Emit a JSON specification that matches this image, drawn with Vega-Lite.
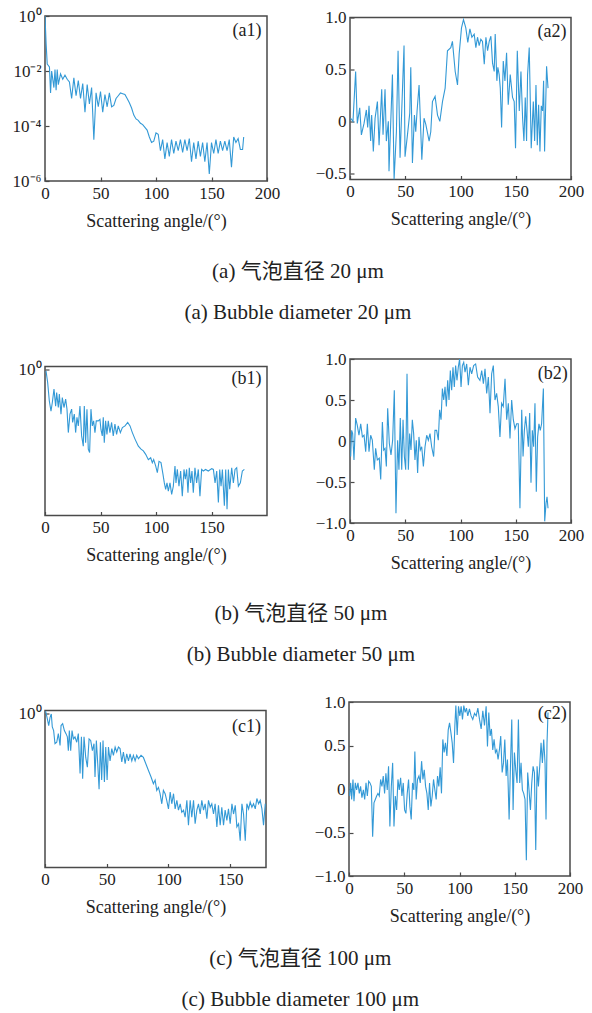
{
  "$schema": "https://vega.github.io/schema/vega-lite/v6.json",
  "padding": {"left": 11, "top": 6, "right": 5, "bottom": 5},
  "background": "white",
  "datasets": {
    "a1": [
      {"angle": 0, "value": 1}, {"angle": 1, "value": 0.1}, {"angle": 2, "value": 0.0178}, {"angle": 4, "value": 0.0141},
      {"angle": 5, "value": 0.0016}, {"angle": 6, "value": 0.01}, {"angle": 8, "value": 0.0025}, {"angle": 9, "value": 0.0112},
      {"angle": 10, "value": 0.002}, {"angle": 11, "value": 0.0112}, {"angle": 12, "value": 0.0032}, {"angle": 14, "value": 0.0079},
      {"angle": 16, "value": 0.005}, {"angle": 18, "value": 0.0071}, {"angle": 20, "value": 0.005}, {"angle": 22, "value": 0.004},
      {"angle": 24, "value": 0.001}, {"angle": 26, "value": 0.0056}, {"angle": 28, "value": 0.00126}, {"angle": 30, "value": 0.0045},
      {"angle": 32, "value": 0.001}, {"angle": 34, "value": 0.0035}, {"angle": 36, "value": 0.00032}, {"angle": 38, "value": 0.0032},
      {"angle": 40, "value": 0.00063}, {"angle": 42, "value": 0.0025}, {"angle": 44, "value": 0.000032}, {"angle": 46, "value": 0.0016},
      {"angle": 48, "value": 0.0005}, {"angle": 50, "value": 0.0018}, {"angle": 52, "value": 0.00032}, {"angle": 54, "value": 0.0014},
      {"angle": 56, "value": 0.0005}, {"angle": 58, "value": 0.0016}, {"angle": 60, "value": 0.0005}, {"angle": 62, "value": 0.00056},
      {"angle": 64, "value": 0.001}, {"angle": 66, "value": 0.00126}, {"angle": 68, "value": 0.0016}, {"angle": 70, "value": 0.0015},
      {"angle": 72, "value": 0.0014}, {"angle": 74, "value": 0.001}, {"angle": 76, "value": 0.0007}, {"angle": 78, "value": 0.00045},
      {"angle": 80, "value": 0.00025}, {"angle": 82, "value": 0.00018}, {"angle": 84, "value": 0.00016}, {"angle": 86, "value": 0.000126},
      {"angle": 88, "value": 0.000112}, {"angle": 90, "value": 0.000089}, {"angle": 92, "value": 0.000071}, {"angle": 94, "value": 0.00004},
      {"angle": 96, "value": 0.000025}, {"angle": 98, "value": 0.000028}, {"angle": 100, "value": 0.000056}, {"angle": 102, "value": 0.00005},
      {"angle": 104, "value": 0.0000126}, {"angle": 106, "value": 0.000032}, {"angle": 108, "value": 0.0000063}, {"angle": 110, "value": 0.000025},
      {"angle": 112, "value": 0.0000079}, {"angle": 114, "value": 0.000032}, {"angle": 116, "value": 0.00001}, {"angle": 118, "value": 0.000028},
      {"angle": 120, "value": 0.0000126}, {"angle": 122, "value": 0.000032}, {"angle": 124, "value": 0.000011}, {"angle": 126, "value": 0.000032},
      {"angle": 128, "value": 0.0000126}, {"angle": 130, "value": 0.000035}, {"angle": 132, "value": 0.000005}, {"angle": 134, "value": 0.000025},
      {"angle": 136, "value": 0.0000063}, {"angle": 138, "value": 0.000028}, {"angle": 140, "value": 0.0000079}, {"angle": 142, "value": 0.000025},
      {"angle": 144, "value": 0.000005}, {"angle": 146, "value": 0.000025}, {"angle": 148, "value": 0.0000018}, {"angle": 150, "value": 0.000025},
      {"angle": 152, "value": 0.00001}, {"angle": 154, "value": 0.000032}, {"angle": 156, "value": 0.00001}, {"angle": 158, "value": 0.000028},
      {"angle": 160, "value": 0.0000126}, {"angle": 162, "value": 0.000028}, {"angle": 164, "value": 0.0000126}, {"angle": 166, "value": 0.000032},
      {"angle": 168, "value": 0.0000032}, {"angle": 170, "value": 0.00004}, {"angle": 172, "value": 0.000025}, {"angle": 174, "value": 0.000035},
      {"angle": 176, "value": 0.000014}, {"angle": 178, "value": 0.000014}, {"angle": 179, "value": 0.00004}
    ],
    "a2": [
      {"angle": 0.6, "value": 0.03}, {"angle": 2.7, "value": 0}, {"angle": 5.1, "value": 0.48}, {"angle": 6.6, "value": -0.02},
      {"angle": 8.8, "value": 0.13}, {"angle": 10.3, "value": -0.13}, {"angle": 12.7, "value": -0.02}, {"angle": 14.8, "value": 0.11},
      {"angle": 16, "value": -0.06}, {"angle": 17.2, "value": 0.15}, {"angle": 18.7, "value": -0.19}, {"angle": 19.6, "value": 0.06},
      {"angle": 21.1, "value": -0.29}, {"angle": 22.7, "value": 0.03}, {"angle": 24.8, "value": 0.19}, {"angle": 26.3, "value": -0.23},
      {"angle": 28.7, "value": 0.31}, {"angle": 29.9, "value": -0.13}, {"angle": 31.7, "value": 0.31}, {"angle": 32.9, "value": -0.19},
      {"angle": 34.7, "value": 0}, {"angle": 35.3, "value": -0.48}, {"angle": 38.4, "value": 0.45}, {"angle": 39.9, "value": -0.56},
      {"angle": 42, "value": -0.1}, {"angle": 43.5, "value": 0.68}, {"angle": 45.3, "value": -0.35}, {"angle": 46.8, "value": 0.1},
      {"angle": 48.9, "value": 0.73}, {"angle": 49.8, "value": -0.34}, {"angle": 52, "value": -0.13}, {"angle": 54.1, "value": 0.08},
      {"angle": 55, "value": 0.52}, {"angle": 56.5, "value": -0.4}, {"angle": 58.3, "value": 0.06}, {"angle": 59.5, "value": -0.1},
      {"angle": 60.7, "value": 0.1}, {"angle": 62.5, "value": 0.35}, {"angle": 65, "value": -0.37}, {"angle": 67, "value": 0.03},
      {"angle": 68.6, "value": -0.03}, {"angle": 71.6, "value": -0.19}, {"angle": 73.1, "value": -0.1}, {"angle": 74.6, "value": 0.19},
      {"angle": 77, "value": 0.24}, {"angle": 79.2, "value": 0.06}, {"angle": 81.3, "value": 0}, {"angle": 83.7, "value": 0.19},
      {"angle": 86.1, "value": 0.32}, {"angle": 88.2, "value": 0.68}, {"angle": 91.2, "value": 0.71}, {"angle": 92.7, "value": 0.77},
      {"angle": 95.2, "value": 0.48}, {"angle": 97.3, "value": 0.35}, {"angle": 98.8, "value": 0.65}, {"angle": 100.9, "value": 0.9},
      {"angle": 102.7, "value": 0.98}, {"angle": 104.8, "value": 0.9}, {"angle": 106.6, "value": 0.76}, {"angle": 108.5, "value": 0.89},
      {"angle": 110.3, "value": 0.81}, {"angle": 112.4, "value": 0.84}, {"angle": 113.9, "value": 0.71}, {"angle": 115.4, "value": 0.81},
      {"angle": 116.9, "value": 0.73}, {"angle": 118.4, "value": 0.79}, {"angle": 119.9, "value": 0.77}, {"angle": 121.5, "value": 0.55},
      {"angle": 123, "value": 0.81}, {"angle": 124.5, "value": 0.68}, {"angle": 126, "value": 0.77}, {"angle": 127.5, "value": 0.82},
      {"angle": 129, "value": 0.56}, {"angle": 130.5, "value": 0.48}, {"angle": 131.4, "value": 0.84}, {"angle": 132.9, "value": 0.39},
      {"angle": 133.8, "value": 0.52}, {"angle": 135, "value": 0.45}, {"angle": 136, "value": 0.32}, {"angle": 137.2, "value": -0.06},
      {"angle": 138.7, "value": 0.58}, {"angle": 140.2, "value": 0.39}, {"angle": 141.7, "value": 0.66}, {"angle": 143.2, "value": 0.16},
      {"angle": 145, "value": 0.45}, {"angle": 147.1, "value": 0.23}, {"angle": 148.6, "value": 0.19}, {"angle": 149.8, "value": -0.26},
      {"angle": 151.4, "value": 0.68}, {"angle": 153.2, "value": 0.1}, {"angle": 154.7, "value": 0.48}, {"angle": 156.2, "value": 0.03},
      {"angle": 157.4, "value": -0.19}, {"angle": 158.6, "value": 0.23}, {"angle": 159.8, "value": -0.19}, {"angle": 160.7, "value": 0.45},
      {"angle": 162.2, "value": 0.71}, {"angle": 164, "value": -0.26}, {"angle": 165.9, "value": 0.19}, {"angle": 167.1, "value": -0.19},
      {"angle": 168.3, "value": 0.35}, {"angle": 169.5, "value": -0.23}, {"angle": 170.7, "value": 0.16}, {"angle": 171.9, "value": -0.29},
      {"angle": 173.1, "value": 0.15}, {"angle": 174.3, "value": 0.1}, {"angle": 175.2, "value": 0.39}, {"angle": 176.1, "value": -0.29},
      {"angle": 177.9, "value": 0.53}, {"angle": 179.2, "value": 0.32}
    ],
    "b1": [
      {"angle": 0.9, "value": 0.91}, {"angle": 2.4, "value": 0.3}, {"angle": 3.9, "value": 0.052}, {"angle": 5.4, "value": 0.02},
      {"angle": 6.6, "value": 0.045}, {"angle": 8.1, "value": 0.16}, {"angle": 9.6, "value": 0.032}, {"angle": 10.5, "value": 0.115},
      {"angle": 12, "value": 0.028}, {"angle": 12.9, "value": 0.1}, {"angle": 14.4, "value": 0.015}, {"angle": 15.6, "value": 0.072},
      {"angle": 17.1, "value": 0.028}, {"angle": 18.6, "value": 0.062}, {"angle": 19.8, "value": 0.024}, {"angle": 21, "value": 0.0026},
      {"angle": 22.5, "value": 0.015}, {"angle": 24, "value": 0.024}, {"angle": 24.9, "value": 0.0068}, {"angle": 26.4, "value": 0.015},
      {"angle": 27.6, "value": 0.0026}, {"angle": 28.8, "value": 0.011}, {"angle": 30, "value": 0.0049}, {"angle": 31.5, "value": 0.032},
      {"angle": 33, "value": 0.0019}, {"angle": 34.5, "value": 0.00072}, {"angle": 35.4, "value": 0.032}, {"angle": 36.6, "value": 0.001},
      {"angle": 37.8, "value": 0.024}, {"angle": 39, "value": 0.00054}, {"angle": 40.2, "value": 0.00039}, {"angle": 41.4, "value": 0.024},
      {"angle": 42.6, "value": 0.0049}, {"angle": 43.8, "value": 0.0079}, {"angle": 45, "value": 0.0026}, {"angle": 46.2, "value": 0.0079},
      {"angle": 48, "value": 0.0079}, {"angle": 49.5, "value": 0.0091}, {"angle": 50.4, "value": 0.0035}, {"angle": 51.6, "value": 0.0019},
      {"angle": 52.5, "value": 0.011}, {"angle": 53.4, "value": 0.001}, {"angle": 54.6, "value": 0.0079}, {"angle": 55.8, "value": 0.0022},
      {"angle": 57, "value": 0.0079}, {"angle": 58.5, "value": 0.0026}, {"angle": 60, "value": 0.0068}, {"angle": 61.5, "value": 0.0019},
      {"angle": 63, "value": 0.0058}, {"angle": 64.5, "value": 0.0022}, {"angle": 66, "value": 0.0049}, {"angle": 67.9, "value": 0.0026},
      {"angle": 69.7, "value": 0.0042}, {"angle": 72.1, "value": 0.0049}, {"angle": 74.5, "value": 0.0068}, {"angle": 76.6, "value": 0.0049},
      {"angle": 78.7, "value": 0.0026}, {"angle": 81.1, "value": 0.0014}, {"angle": 84.1, "value": 0.00072}, {"angle": 86.5, "value": 0.00054},
      {"angle": 88.6, "value": 0.00046}, {"angle": 90.7, "value": 0.00033}, {"angle": 93.1, "value": 0.0002}, {"angle": 95.2, "value": 0.00024},
      {"angle": 96.7, "value": 0.00015}, {"angle": 97.9, "value": 0.0002}, {"angle": 99.7, "value": 0.00011}, {"angle": 101.2, "value": 0.000058},
      {"angle": 102.7, "value": 0.00017}, {"angle": 104.5, "value": 0.00015}, {"angle": 106.3, "value": 0.000049}, {"angle": 107.5, "value": 0.000022},
      {"angle": 108.7, "value": 0.000012}, {"angle": 109.9, "value": 0.000022}, {"angle": 111.1, "value": 0.00001}, {"angle": 112.6, "value": 0.000022},
      {"angle": 114.1, "value": 0.0000074}, {"angle": 115.6, "value": 0.000016}, {"angle": 117.1, "value": 0.00011}, {"angle": 118, "value": 0.000022},
      {"angle": 119.2, "value": 0.000079}, {"angle": 120.7, "value": 0.000016}, {"angle": 122.2, "value": 0.000068}, {"angle": 123.7, "value": 0.0000063},
      {"angle": 125.2, "value": 0.000079}, {"angle": 126.4, "value": 0.000031}, {"angle": 127.6, "value": 0.000079}, {"angle": 128.8, "value": 0.0000087},
      {"angle": 130, "value": 0.000093}, {"angle": 131.2, "value": 0.000022}, {"angle": 132.4, "value": 0.000068}, {"angle": 133.6, "value": 0.0000087},
      {"angle": 135.1, "value": 0.000093}, {"angle": 136.6, "value": 0.000022}, {"angle": 138.1, "value": 0.000079}, {"angle": 139.6, "value": 0.0000063},
      {"angle": 141.1, "value": 0.000079}, {"angle": 142.6, "value": 0.000068}, {"angle": 144.7, "value": 0.000079}, {"angle": 147.1, "value": 0.000068},
      {"angle": 150.2, "value": 0.000085}, {"angle": 151.7, "value": 0.000079}, {"angle": 153.2, "value": 0.000022}, {"angle": 154.7, "value": 0.000068},
      {"angle": 156.2, "value": 0.0000034}, {"angle": 157.4, "value": 0.000079}, {"angle": 158.6, "value": 0.000016}, {"angle": 159.8, "value": 0.000079},
      {"angle": 161.6, "value": 0.0000025}, {"angle": 162.8, "value": 0.000079}, {"angle": 164, "value": 0.0000018}, {"angle": 165.2, "value": 0.000079},
      {"angle": 166.4, "value": 0.000012}, {"angle": 168.2, "value": 0.000093}, {"angle": 169.7, "value": 0.000022}, {"angle": 171.2, "value": 0.000079},
      {"angle": 172.7, "value": 0.000093}, {"angle": 174.2, "value": 0.000016}, {"angle": 176, "value": 0.000022}, {"angle": 177.8, "value": 0.000068},
      {"angle": 179.6, "value": 0.000079}
    ],
    "b2": [
      {"angle": 0.6, "value": -0.19}, {"angle": 1.5, "value": 0.13}, {"angle": 2.4, "value": 0.09}, {"angle": 3.6, "value": -0.23},
      {"angle": 5.1, "value": 0.28}, {"angle": 6.6, "value": 0.19}, {"angle": 8.1, "value": 0.07}, {"angle": 9.7, "value": 0.21},
      {"angle": 11.2, "value": 0.05}, {"angle": 12.7, "value": 0.07}, {"angle": 14.2, "value": -0.13}, {"angle": 15.7, "value": 0.21},
      {"angle": 17.2, "value": -0.13}, {"angle": 18.7, "value": 0.07}, {"angle": 20.2, "value": 0.01}, {"angle": 22, "value": -0.35},
      {"angle": 23.2, "value": -0.09}, {"angle": 24.7, "value": -0.23}, {"angle": 26.5, "value": -0.21}, {"angle": 27.8, "value": -0.47},
      {"angle": 29.3, "value": 0.23}, {"angle": 30.5, "value": -0.11}, {"angle": 31.7, "value": -0.09}, {"angle": 32.9, "value": -0.31},
      {"angle": 34.1, "value": 0.4}, {"angle": 35.6, "value": -0.03}, {"angle": 37.1, "value": -0.17}, {"angle": 38.6, "value": 0.01},
      {"angle": 40.1, "value": 0.62}, {"angle": 41.6, "value": -0.88}, {"angle": 43.1, "value": 0.01}, {"angle": 44.3, "value": -0.35},
      {"angle": 45.5, "value": 0.28}, {"angle": 46.8, "value": -0.35}, {"angle": 48, "value": 0.26}, {"angle": 49.2, "value": -0.19},
      {"angle": 50.4, "value": -0.35}, {"angle": 51.6, "value": 0.82}, {"angle": 52.8, "value": -0.35}, {"angle": 54, "value": 0.09},
      {"angle": 55.2, "value": -0.11}, {"angle": 56.4, "value": 0.26}, {"angle": 57.6, "value": 0.09}, {"angle": 58.8, "value": -0.23},
      {"angle": 60, "value": 0.01}, {"angle": 61.2, "value": -0.39}, {"angle": 62.4, "value": 0.05}, {"angle": 63.6, "value": -0.11},
      {"angle": 64.9, "value": -0.07}, {"angle": 66.4, "value": -0.31}, {"angle": 67.9, "value": -0.07}, {"angle": 69.4, "value": 0.07},
      {"angle": 70.9, "value": 0.01}, {"angle": 72.4, "value": 0.09}, {"angle": 73.9, "value": -0.07}, {"angle": 75.7, "value": -0.19},
      {"angle": 76.9, "value": 0.13}, {"angle": 78.4, "value": 0.13}, {"angle": 79.9, "value": 0.01}, {"angle": 81.1, "value": 0.38},
      {"angle": 82.4, "value": 0.26}, {"angle": 83.6, "value": 0.64}, {"angle": 84.8, "value": 0.5}, {"angle": 86, "value": 0.66},
      {"angle": 87.2, "value": 0.42}, {"angle": 88.4, "value": 0.74}, {"angle": 89.6, "value": 0.5}, {"angle": 90.8, "value": 0.86},
      {"angle": 92, "value": 0.62}, {"angle": 93.2, "value": 0.9}, {"angle": 94.4, "value": 0.66}, {"angle": 95.6, "value": 0.92},
      {"angle": 96.8, "value": 0.74}, {"angle": 98, "value": 0.9}, {"angle": 99.2, "value": 1.0}, {"angle": 100.5, "value": 0.66},
      {"angle": 101.7, "value": 0.92}, {"angle": 102.9, "value": 0.96}, {"angle": 104.1, "value": 0.84}, {"angle": 105.6, "value": 0.94},
      {"angle": 107.1, "value": 0.68}, {"angle": 108.6, "value": 0.9}, {"angle": 110.1, "value": 0.82}, {"angle": 111.9, "value": 0.92},
      {"angle": 113.7, "value": 0.94}, {"angle": 115.5, "value": 0.78}, {"angle": 117.6, "value": 0.74}, {"angle": 119.2, "value": 0.86},
      {"angle": 120.7, "value": 0.7}, {"angle": 122.2, "value": 0.88}, {"angle": 123.7, "value": 0.58}, {"angle": 125.2, "value": 0.78},
      {"angle": 126.7, "value": 0.34}, {"angle": 128.2, "value": 0.82}, {"angle": 129.7, "value": 0.92}, {"angle": 131.2, "value": 0.5},
      {"angle": 132.7, "value": 0.58}, {"angle": 134.2, "value": 0.42}, {"angle": 135.7, "value": 0.05}, {"angle": 137.2, "value": 0.46},
      {"angle": 138.7, "value": 0.42}, {"angle": 140.3, "value": 0.76}, {"angle": 141.8, "value": 0.26}, {"angle": 143.3, "value": 0.46},
      {"angle": 144.8, "value": 0.03}, {"angle": 146.3, "value": 0.5}, {"angle": 147.8, "value": 0.26}, {"angle": 149.3, "value": 0.15},
      {"angle": 150.8, "value": 0.21}, {"angle": 152.3, "value": 0.21}, {"angle": 153.8, "value": -0.82}, {"angle": 155.4, "value": 0.38},
      {"angle": 156.6, "value": -0.19}, {"angle": 157.8, "value": 0.13}, {"angle": 159, "value": 0.3}, {"angle": 160.2, "value": 0.13},
      {"angle": 161.4, "value": -0.07}, {"angle": 162.6, "value": 0.34}, {"angle": 163.8, "value": -0.51}, {"angle": 165, "value": 0.13},
      {"angle": 166.2, "value": -0.07}, {"angle": 167.4, "value": 0.46}, {"angle": 168.6, "value": -0.62}, {"angle": 169.8, "value": 0.05},
      {"angle": 171, "value": 0.21}, {"angle": 172.2, "value": 0.13}, {"angle": 173.4, "value": 0.21}, {"angle": 175, "value": 0.64},
      {"angle": 176.2, "value": -0.98}, {"angle": 177.4, "value": -0.76}, {"angle": 178.3, "value": -0.68}, {"angle": 179.2, "value": -0.82}
    ],
    "c1": [
      {"angle": 0.5, "value": 1.2}, {"angle": 1.9, "value": 0.6}, {"angle": 3, "value": 0.33}, {"angle": 4.1, "value": 0.69},
      {"angle": 5.1, "value": 0.93}, {"angle": 5.9, "value": 0.29}, {"angle": 7, "value": 0.21}, {"angle": 8.1, "value": 0.065},
      {"angle": 9.5, "value": 0.074}, {"angle": 10.8, "value": 0.16}, {"angle": 12.2, "value": 0.056}, {"angle": 13, "value": 0.33},
      {"angle": 14.3, "value": 0.39}, {"angle": 15.7, "value": 0.21}, {"angle": 17, "value": 0.16}, {"angle": 18.1, "value": 0.12},
      {"angle": 18.9, "value": 0.035}, {"angle": 19.7, "value": 0.21}, {"angle": 20.8, "value": 0.035}, {"angle": 21.9, "value": 0.21},
      {"angle": 23, "value": 0.1}, {"angle": 24.3, "value": 0.12}, {"angle": 25.7, "value": 0.074}, {"angle": 27, "value": 0.16},
      {"angle": 28.4, "value": 0.0045}, {"angle": 29.5, "value": 0.12}, {"angle": 30.5, "value": 0.0028}, {"angle": 31.6, "value": 0.12},
      {"angle": 33, "value": 0.019}, {"angle": 34.3, "value": 0.0079}, {"angle": 35.7, "value": 0.1}, {"angle": 37, "value": 0.087},
      {"angle": 38.4, "value": 0.035}, {"angle": 39.7, "value": 0.065}, {"angle": 40.5, "value": 0.0033}, {"angle": 41.6, "value": 0.087},
      {"angle": 42.7, "value": 0.011}, {"angle": 43.8, "value": 0.0011}, {"angle": 44.9, "value": 0.074}, {"angle": 45.9, "value": 0.0025},
      {"angle": 47, "value": 0.087}, {"angle": 48.1, "value": 0.0021}, {"angle": 49.2, "value": 0.048}, {"angle": 50.3, "value": 0.0025},
      {"angle": 51.4, "value": 0.048}, {"angle": 52.7, "value": 0.014}, {"angle": 54.1, "value": 0.042}, {"angle": 55.4, "value": 0.023},
      {"angle": 56.8, "value": 0.048}, {"angle": 58.1, "value": 0.031}, {"angle": 59.5, "value": 0.048}, {"angle": 60.8, "value": 0.042},
      {"angle": 62.2, "value": 0.0126}, {"angle": 63.5, "value": 0.031}, {"angle": 64.9, "value": 0.011}, {"angle": 66.2, "value": 0.026},
      {"angle": 67.6, "value": 0.014}, {"angle": 68.9, "value": 0.026}, {"angle": 70.3, "value": 0.014}, {"angle": 71.6, "value": 0.023},
      {"angle": 73, "value": 0.014}, {"angle": 74.3, "value": 0.023}, {"angle": 75.7, "value": 0.017}, {"angle": 77.8, "value": 0.023},
      {"angle": 79.7, "value": 0.019}, {"angle": 81.6, "value": 0.011}, {"angle": 83.8, "value": 0.0059}, {"angle": 85.9, "value": 0.0033},
      {"angle": 87.8, "value": 0.0018}, {"angle": 89.2, "value": 0.0025}, {"angle": 90.5, "value": 0.001}, {"angle": 91.9, "value": 0.0013},
      {"angle": 93.2, "value": 0.00074}, {"angle": 94.6, "value": 0.0003}, {"angle": 95.9, "value": 0.001}, {"angle": 97.3, "value": 0.00074},
      {"angle": 98.6, "value": 0.00041}, {"angle": 100, "value": 0.00019}, {"angle": 101.4, "value": 0.00085}, {"angle": 102.7, "value": 0.0003},
      {"angle": 104.1, "value": 0.00074}, {"angle": 105.4, "value": 0.00019}, {"angle": 106.8, "value": 0.00041}, {"angle": 108.1, "value": 0.00017},
      {"angle": 109.5, "value": 0.0003}, {"angle": 110.8, "value": 0.00014}, {"angle": 112.2, "value": 0.00017}, {"angle": 113.5, "value": 0.000091},
      {"angle": 114.9, "value": 0.00041}, {"angle": 116.2, "value": 0.000044}, {"angle": 117.6, "value": 0.00041}, {"angle": 118.9, "value": 0.000091},
      {"angle": 120.3, "value": 0.00041}, {"angle": 121.6, "value": 0.00005}, {"angle": 123, "value": 0.00017}, {"angle": 124.3, "value": 0.0003},
      {"angle": 125.7, "value": 0.00012}, {"angle": 127, "value": 0.00041}, {"angle": 128.4, "value": 0.00017}, {"angle": 129.7, "value": 0.0003},
      {"angle": 131.1, "value": 0.000079}, {"angle": 132.4, "value": 0.00041}, {"angle": 133.8, "value": 0.00022}, {"angle": 135.1, "value": 0.0003},
      {"angle": 136.5, "value": 0.00012}, {"angle": 137.8, "value": 0.0003}, {"angle": 139.2, "value": 0.000038}, {"angle": 140.5, "value": 0.00026},
      {"angle": 141.9, "value": 0.000044}, {"angle": 143.2, "value": 0.00022}, {"angle": 144.6, "value": 0.000044}, {"angle": 145.9, "value": 0.00017},
      {"angle": 147.3, "value": 0.000068}, {"angle": 148.6, "value": 0.00019}, {"angle": 150, "value": 0.00005}, {"angle": 151.4, "value": 0.0003},
      {"angle": 152.7, "value": 0.00012}, {"angle": 154.1, "value": 0.00026}, {"angle": 155.4, "value": 0.000038}, {"angle": 156.8, "value": 0.00005},
      {"angle": 158.1, "value": 0.000011}, {"angle": 159.5, "value": 0.0003}, {"angle": 160.8, "value": 0.00012}, {"angle": 162.2, "value": 0.000011},
      {"angle": 163.5, "value": 0.0003}, {"angle": 164.9, "value": 0.00019}, {"angle": 166.2, "value": 0.00035}, {"angle": 167.6, "value": 0.00022},
      {"angle": 168.9, "value": 0.0003}, {"angle": 170.3, "value": 0.00019}, {"angle": 171.6, "value": 0.00048}, {"angle": 173, "value": 0.0003},
      {"angle": 174.3, "value": 0.00041}, {"angle": 175.7, "value": 0.00019}, {"angle": 177, "value": 0.000044}, {"angle": 178.4, "value": 0.0003}
    ],
    "c2": [
      {"angle": 0.6, "value": -0.08}, {"angle": 1.5, "value": 0.07}, {"angle": 2.4, "value": -0.12}, {"angle": 3.6, "value": 0.11},
      {"angle": 4.5, "value": -0.14}, {"angle": 5.7, "value": 0.07}, {"angle": 6.9, "value": -0.01}, {"angle": 8.1, "value": 0.07},
      {"angle": 9.3, "value": -0.05}, {"angle": 10.5, "value": 0.03}, {"angle": 11.7, "value": -0.1}, {"angle": 13, "value": -0.01},
      {"angle": 14.2, "value": -0.12}, {"angle": 15.4, "value": 0.07}, {"angle": 16.6, "value": -0.08}, {"angle": 17.8, "value": 0.09},
      {"angle": 19, "value": 0.07}, {"angle": 20.2, "value": 0.03}, {"angle": 21.4, "value": -0.55}, {"angle": 22.6, "value": -0.16},
      {"angle": 23.8, "value": -0.12}, {"angle": 25, "value": -0.08}, {"angle": 26.2, "value": -0.05}, {"angle": 27.4, "value": -0.08},
      {"angle": 28.6, "value": 0.11}, {"angle": 29.8, "value": 0.03}, {"angle": 31, "value": 0.15}, {"angle": 32.2, "value": -0.05},
      {"angle": 33.4, "value": 0.18}, {"angle": 34.6, "value": -0.01}, {"angle": 35.8, "value": 0.26}, {"angle": 37, "value": -0.43},
      {"angle": 38.3, "value": 0.03}, {"angle": 39.5, "value": 0.3}, {"angle": 40.7, "value": -0.43}, {"angle": 41.9, "value": -0.08},
      {"angle": 43.1, "value": -0.24}, {"angle": 44.3, "value": 0.11}, {"angle": 45.5, "value": -0.01}, {"angle": 46.7, "value": 0.13},
      {"angle": 47.9, "value": -0.08}, {"angle": 49.1, "value": 0.07}, {"angle": 50.3, "value": -0.24}, {"angle": 51.5, "value": -0.28},
      {"angle": 52.7, "value": -0.05}, {"angle": 53.9, "value": 0.11}, {"angle": 55.1, "value": -0.2}, {"angle": 56.3, "value": -0.35},
      {"angle": 57.5, "value": 0.07}, {"angle": 58.7, "value": -0.01}, {"angle": 59.6, "value": 0.43}, {"angle": 60.8, "value": -0.12},
      {"angle": 62, "value": 0.11}, {"angle": 63.3, "value": 0.15}, {"angle": 64.5, "value": 0.07}, {"angle": 65.7, "value": 0.32},
      {"angle": 66.9, "value": 0.11}, {"angle": 68.1, "value": 0.22}, {"angle": 69.3, "value": 0.03}, {"angle": 70.5, "value": -0.05},
      {"angle": 71.7, "value": -0.24}, {"angle": 72.9, "value": 0.07}, {"angle": 74.1, "value": -0.2}, {"angle": 75.3, "value": -0.08},
      {"angle": 76.5, "value": 0.11}, {"angle": 77.7, "value": -0.01}, {"angle": 78.9, "value": -0.12}, {"angle": 80.1, "value": 0.15},
      {"angle": 81.3, "value": 0.03}, {"angle": 82.5, "value": 0.25}, {"angle": 83.7, "value": -0.05}, {"angle": 84.9, "value": 0.57},
      {"angle": 86.1, "value": 0.42}, {"angle": 87.3, "value": 0.53}, {"angle": 88.6, "value": 0.38}, {"angle": 89.8, "value": 0.68},
      {"angle": 91, "value": 0.76}, {"angle": 92.2, "value": 0.65}, {"angle": 93.4, "value": 0.53}, {"angle": 94.6, "value": 0.3},
      {"angle": 95.8, "value": 0.73}, {"angle": 96.7, "value": 0.96}, {"angle": 97.9, "value": 0.62}, {"angle": 99.1, "value": 0.95},
      {"angle": 100.3, "value": 0.84}, {"angle": 101.5, "value": 0.95}, {"angle": 102.7, "value": 0.8}, {"angle": 103.9, "value": 0.96},
      {"angle": 105.1, "value": 0.88}, {"angle": 106.3, "value": 0.93}, {"angle": 107.5, "value": 0.84}, {"angle": 109, "value": 0.92},
      {"angle": 110.5, "value": 0.84}, {"angle": 112, "value": 0.8}, {"angle": 113.6, "value": 0.87}, {"angle": 115.1, "value": 0.84},
      {"angle": 116.6, "value": 0.93}, {"angle": 118.1, "value": 0.8}, {"angle": 119.6, "value": 0.69}, {"angle": 121.1, "value": 0.9},
      {"angle": 122.6, "value": 0.73}, {"angle": 124.1, "value": 0.95}, {"angle": 125.3, "value": 0.49}, {"angle": 126.5, "value": 0.88},
      {"angle": 127.7, "value": 0.61}, {"angle": 128.9, "value": 0.69}, {"angle": 130.1, "value": 0.45}, {"angle": 131.3, "value": 0.57},
      {"angle": 132.5, "value": 0.42}, {"angle": 133.7, "value": 0.45}, {"angle": 134.9, "value": 0.34}, {"angle": 136.1, "value": 0.45},
      {"angle": 137.3, "value": 0.61}, {"angle": 138.6, "value": 0.19}, {"angle": 139.8, "value": 0.3}, {"angle": 141, "value": 0.57},
      {"angle": 142.2, "value": 0.15}, {"angle": 143.4, "value": 0.34}, {"angle": 144.9, "value": -0.35}, {"angle": 146.1, "value": 0.26},
      {"angle": 147.3, "value": 0.8}, {"angle": 148.5, "value": -0.24}, {"angle": 149.7, "value": 0.42}, {"angle": 150.9, "value": 0.22},
      {"angle": 152.1, "value": 0.07}, {"angle": 153.3, "value": 0.8}, {"angle": 154.5, "value": 0.07}, {"angle": 155.7, "value": 0.3},
      {"angle": 156.9, "value": -0.01}, {"angle": 158.1, "value": -0.05}, {"angle": 159.3, "value": -0.12}, {"angle": 160.5, "value": -0.82},
      {"angle": 161.7, "value": 0.19}, {"angle": 162.9, "value": -0.01}, {"angle": 164.2, "value": -0.24}, {"angle": 165.4, "value": 0.07},
      {"angle": 166.6, "value": 0.26}, {"angle": 167.8, "value": 0.19}, {"angle": 169, "value": -0.7}, {"angle": 170.2, "value": 0.26},
      {"angle": 171.4, "value": 0.03}, {"angle": 172.6, "value": 0.26}, {"angle": 173.8, "value": 0.53}, {"angle": 175, "value": 0.3},
      {"angle": 176.2, "value": 0.57}, {"angle": 177.4, "value": 0.3}, {"angle": 178.3, "value": -0.35}, {"angle": 179.2, "value": 0.53},
      {"angle": 180.1, "value": 0.88}
    ]
  },
  "vconcat": [
    {
      "hconcat": [
        {
          "width": 222, "height": 165,
          "layer": [
            {
              "data": {"name": "a1"},
              "mark": {"type": "line", "clip": true},
              "encoding": {
                "x": {"field": "angle", "type": "quantitative", "scale": {"domain": [0, 200], "nice": false}, "axis": {"values": [0, 50, 100, 150, 200], "title": "Scattering angle/(°)"}},
                "y": {"field": "value", "type": "quantitative", "scale": {"type": "log", "domain": [0.000001, 1], "nice": false}, "axis": {"values": [0.000001, 0.0001, 0.01, 1], "title": null, "labelExpr": "'10' + (datum.value >= 0.5 ? '⁰' : datum.value >= 0.005 ? '⁻²' : datum.value >= 0.00005 ? '⁻⁴' : '⁻⁶')"}}
              }
            },
            {
              "data": {"values": [{"label": "(a1)"}]},
              "mark": {"type": "text", "align": "right", "baseline": "middle"},
              "encoding": {"x": {"datum": 195, "type": "quantitative"}, "y": {"datum": 0.28, "type": "quantitative"}, "text": {"field": "label"}}
            }
          ]
        },
        {
          "width": 221, "height": 162,
          "layer": [
            {
              "data": {"name": "a2"},
              "mark": {"type": "line", "clip": true},
              "encoding": {
                "x": {"field": "angle", "type": "quantitative", "scale": {"domain": [0, 200], "nice": false}, "axis": {"values": [0, 50, 100, 150, 200], "title": "Scattering angle/(°)"}},
                "y": {"field": "value", "type": "quantitative", "scale": {"domain": [-0.56, 1], "nice": false}, "axis": {"values": [-0.5, 0, 0.5, 1], "title": null, "labelExpr": "datum.value == 0 ? '0' : format(datum.value, '.1f')"}}
              }
            },
            {
              "data": {"values": [{"label": "(a2)"}]},
              "mark": {"type": "text", "align": "right", "baseline": "middle"},
              "encoding": {"x": {"datum": 196, "type": "quantitative"}, "y": {"datum": 0.86, "type": "quantitative"}, "text": {"field": "label"}}
            }
          ]
        }
      ],
      "spacing": 83,
      "bounds": "flush",
      "center": true,
      "title": {"text": ["(a) 气泡直径 20 μm", "(a) Bubble diameter 20 μm"], "orient": "bottom", "anchor": "middle", "offset": 30}
    },
    {
      "hconcat": [
        {
          "width": 222, "height": 149,
          "layer": [
            {
              "data": {"name": "b1"},
              "mark": {"type": "line", "clip": true},
              "encoding": {
                "x": {"field": "angle", "type": "quantitative", "scale": {"domain": [0, 200], "nice": false}, "axis": {"values": [0, 50, 100, 150], "title": "Scattering angle/(°)"}},
                "y": {"field": "value", "type": "quantitative", "scale": {"type": "log", "domain": [0.000001, 1.37], "nice": false}, "axis": {"values": [1], "title": null, "labelExpr": "'10⁰'"}}
              }
            },
            {
              "data": {"values": [{"label": "(b1)"}]},
              "mark": {"type": "text", "align": "right", "baseline": "middle"},
              "encoding": {"x": {"datum": 195, "type": "quantitative"}, "y": {"datum": 0.41, "type": "quantitative"}, "text": {"field": "label"}}
            }
          ]
        },
        {
          "width": 221, "height": 164,
          "layer": [
            {
              "data": {"name": "b2"},
              "mark": {"type": "line", "clip": true},
              "encoding": {
                "x": {"field": "angle", "type": "quantitative", "scale": {"domain": [0, 200], "nice": false}, "axis": {"values": [0, 50, 100, 150, 200], "title": "Scattering angle/(°)"}},
                "y": {"field": "value", "type": "quantitative", "scale": {"domain": [-1, 1], "nice": false}, "axis": {"values": [-1, -0.5, 0, 0.5, 1], "title": null, "labelExpr": "datum.value == 0 ? '0' : format(datum.value, '.1f')"}}
              }
            },
            {
              "data": {"values": [{"label": "(b2)"}]},
              "mark": {"type": "text", "align": "right", "baseline": "middle"},
              "encoding": {"x": {"datum": 197, "type": "quantitative"}, "y": {"datum": 0.82, "type": "quantitative"}, "text": {"field": "label"}}
            }
          ]
        }
      ],
      "spacing": 83,
      "bounds": "flush",
      "center": true,
      "title": {"text": ["(b) 气泡直径 50 μm", "(b) Bubble diameter 50 μm"], "orient": "bottom", "anchor": "middle", "offset": 30}
    },
    {
      "hconcat": [
        {
          "width": 221, "height": 157,
          "layer": [
            {
              "data": {"name": "c1"},
              "mark": {"type": "line", "clip": true},
              "encoding": {
                "x": {"field": "angle", "type": "quantitative", "scale": {"domain": [0, 179], "nice": false}, "axis": {"values": [0, 50, 100, 150], "title": "Scattering angle/(°)"}},
                "y": {"field": "value", "type": "quantitative", "scale": {"type": "log", "domain": [0.000001, 1.27], "nice": false}, "axis": {"values": [1], "title": null, "labelExpr": "'10⁰'"}}
              }
            },
            {
              "data": {"values": [{"label": "(c1)"}]},
              "mark": {"type": "text", "align": "right", "baseline": "middle"},
              "encoding": {"x": {"datum": 175, "type": "quantitative"}, "y": {"datum": 0.29, "type": "quantitative"}, "text": {"field": "label"}}
            }
          ]
        },
        {
          "width": 221, "height": 174,
          "layer": [
            {
              "data": {"name": "c2"},
              "mark": {"type": "line", "clip": true},
              "encoding": {
                "x": {"field": "angle", "type": "quantitative", "scale": {"domain": [0, 200], "nice": false}, "axis": {"values": [0, 50, 100, 150, 200], "title": "Scattering angle/(°)"}},
                "y": {"field": "value", "type": "quantitative", "scale": {"domain": [-1, 1], "nice": false}, "axis": {"values": [-1, -0.5, 0, 0.5, 1], "title": null, "labelExpr": "datum.value == 0 ? '0' : format(datum.value, '.1f')"}}
              }
            },
            {
              "data": {"values": [{"label": "(c2)"}]},
              "mark": {"type": "text", "align": "right", "baseline": "middle"},
              "encoding": {"x": {"datum": 197, "type": "quantitative"}, "y": {"datum": 0.86, "type": "quantitative"}, "text": {"field": "label"}}
            }
          ]
        }
      ],
      "spacing": 83,
      "bounds": "flush",
      "center": true,
      "title": {"text": ["(c) 气泡直径 100 μm", "(c) Bubble diameter 100 μm"], "orient": "bottom", "anchor": "middle", "offset": 22}
    }
  ],
  "spacing": 343,
  "bounds": "flush",
  "config": {
    "view": {"stroke": "#4a4a4a", "strokeWidth": 1.5},
    "font": "Liberation Serif",
    "axis": {
      "grid": false,
      "domain": false,
      "tickSize": -4,
      "tickColor": "#4a4a4a",
      "tickWidth": 1.2,
      "labelFont": "Liberation Serif",
      "labelFontSize": 17,
      "labelColor": "#222222",
      "labelPadding": 8,
      "labelFlush": false,
      "labelOverlap": false,
      "titleFont": "Liberation Serif",
      "titleFontSize": 18,
      "titleFontWeight": "normal",
      "titleColor": "#222222",
      "titlePadding": 11
    },
    "line": {"color": "#3399d6", "strokeWidth": 1.1},
    "text": {"font": "Liberation Serif", "fontSize": 18, "color": "#222222"},
    "title": {"font": "'Liberation Serif', 'Noto Sans CJK SC'", "fontSize": 21, "fontWeight": "normal", "color": "#222222", "lineHeight": 41, "baseline": "top"}
  }
}
